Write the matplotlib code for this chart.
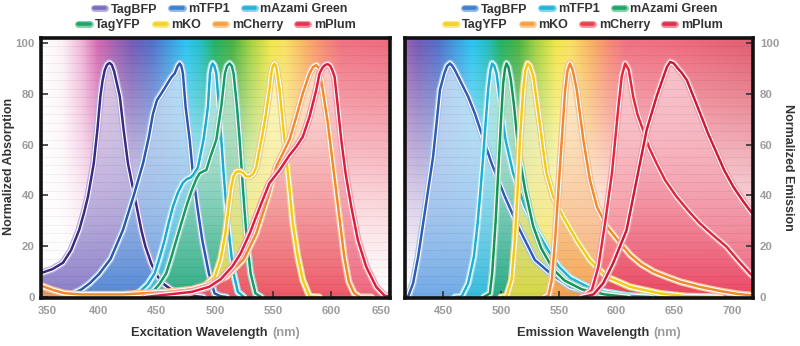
import numpy as np
import matplotlib
matplotlib.use('Agg')
import matplotlib.pyplot as plt
from matplotlib.colors import LinearSegmentedColormap, to_rgb
from matplotlib.lines import Line2D
import matplotlib.patheffects as pe
import matplotlib.transforms as mtransforms
from matplotlib.offsetbox import TextArea, HPacker, AnchoredOffsetbox

plt.rcParams['font.family'] = ['Liberation Sans', 'DejaVu Sans']
plt.rcParams['font.weight'] = 'bold'

proteins = ['TagBFP', 'mTFP1', 'mAzami Green', 'TagYFP', 'mKO', 'mCherry', 'mPlum']

# ---------------- Excitation spectra ----------------
tagbfp_ex_wl = [350, 360, 369, 376, 383, 387, 390.5, 393, 395.5, 398.6, 401.2, 403, 405, 407, 409, 411, 413, 415.5, 418, 421.3, 425, 430.8, 436.5, 440, 445, 450, 455, 462, 470, 480, 490]
tagbfp_ex_val = [9.4, 11, 13.5, 18.5, 26.5, 33, 39.5, 46, 52.6, 65.7, 78.9, 85, 89.4, 91.5, 92.2, 91.5, 89, 84, 78.9, 65.7, 52.6, 39.5, 26.4, 20, 13.3, 8.5, 5.4, 3, 1.5, 0.5, 0]

mtfp1_ex_wl = [370, 378, 385, 392, 400, 410, 420.7, 430, 438, 443, 446.5, 450, 455, 459, 462.4, 465.3, 468, 469.6, 471, 472.4, 474.7, 478.2, 481, 484.8, 489.1, 494.8, 499.7, 505, 510]
mtfp1_ex_val = [0, 1.5, 3, 5.4, 9, 15, 26.4, 40, 52.6, 63, 72, 77.5, 81, 84, 86.5, 88, 91, 92, 91, 88, 75, 62, 48.7, 35.6, 22.4, 9.3, 1.4, 0.3, 0]

mazami_ex_wl = [425, 435, 442, 448, 452, 456.6, 460, 463.8, 468, 472.4, 476, 479, 482, 485.3, 488, 490.2, 492, 494, 495.7, 497, 498, 499.5, 501.2, 503.5, 505.5, 507.5, 509.8, 512.7, 516.1, 519.8, 525]
mazami_ex_val = [0, 2, 5, 9.3, 15, 22.4, 29, 35.6, 41, 45, 46.5, 47, 48.5, 51, 57, 62, 68, 75, 88, 91, 92, 91, 88, 75, 62, 48.7, 35.6, 22.4, 9.3, 2, 0]

tagyfp_ex_wl = [435, 445, 452, 458, 462, 466.7, 471, 475.3, 480, 484, 486.8, 490, 492.6, 496, 501.2, 505.5, 508.6, 510.5, 512.7, 514.5, 516.1, 519, 521.3, 523.3, 525.3, 527.6, 530.8, 535, 540]
tagyfp_ex_val = [0, 1.4, 5, 9.3, 15, 22.4, 29, 35.6, 42, 46.5, 48.7, 49.5, 50, 55, 62, 75, 88, 91, 92, 91, 88, 75, 62, 48.7, 35.6, 22.4, 9.3, 1.4, 0]

mko_ex_wl = [460, 470, 480, 490, 500, 505, 509, 512, 514, 516, 518.4, 521, 524, 527, 530, 533, 535.6, 538, 541, 544, 547, 548.6, 550, 551.5, 553, 555.8, 558.6, 561.5, 564.4, 567.2, 571.5, 575.8, 581.6, 590]
mko_ex_val = [0, 1, 2, 4, 8, 15, 25, 36, 43, 47.5, 49.3, 49.5, 49, 47.5, 47.4, 48.5, 51, 57, 64, 72, 81.5, 88, 91, 92, 90.5, 81.5, 68.4, 55.3, 42, 29, 15.9, 6.7, 0.2, 0]

mcherry_ex_wl = [350, 360, 370, 385, 400, 420, 440, 460, 480, 495, 510, 525, 535.6, 547, 552.9, 558.6, 564.4, 570.2, 575.8, 581.6, 584.5, 587.4, 590, 593, 597.4, 601, 604.5, 608, 611.5, 615.5, 620, 625, 635]
mcherry_ex_val = [4.5, 2.8, 1.5, 1, 1, 1, 1.5, 2, 3, 5, 8, 15, 25, 41, 51.4, 56.6, 62, 71, 80.2, 88, 90.5, 91.3, 90, 81.5, 68.4, 55, 42, 29, 16, 6, 1.5, 0, 0]

mplum_ex_wl = [440, 460, 480, 495, 505, 515, 522, 530, 535, 541, 547, 555.8, 564.4, 570.2, 575.8, 581.6, 587.4, 590.2, 593, 595.5, 597.4, 599.5, 601.5, 603.2, 606, 609, 612.7, 617.6, 623.3, 630.5, 639.1, 646.3, 655]
mplum_ex_val = [0, 1, 2, 4, 7, 12, 17, 25, 31, 38, 44.8, 50, 55.9, 59.2, 63.1, 71, 81.5, 88, 90.5, 91.5, 91.7, 91, 89, 86.7, 75, 61.8, 48.7, 35.6, 22.4, 11.9, 4, 0.5, 0]

# ---------------- Emission spectra ----------------
tagbfp_em_wl = [417, 419.7, 424, 428.4, 432.7, 437, 441.3, 444.3, 447.2, 451, 453.5, 455.9, 458, 460.1, 465.9, 471.6, 477.4, 483.2, 491.9, 503.4, 514.9, 529.3, 542.5, 560, 583, 600, 620]
tagbfp_em_val = [0, 0.2, 5.4, 15.9, 29, 42.1, 55.3, 68.4, 81.5, 88, 91, 92, 91, 89.4, 84.1, 78.9, 72.3, 64.4, 52.6, 39.5, 27.7, 14.6, 9.4, 4, 1, 0.3, 0]

mtfp1_em_wl = [460, 465.9, 471.6, 476.6, 479.8, 482.3, 484.6, 486.7, 488.9, 490.8, 492.4, 494.2, 496.2, 499.9, 504, 510.6, 520.7, 530, 540, 550, 560, 575, 590, 610, 630]
mtfp1_em_val = [0, 0.2, 5.4, 15.9, 29, 42.1, 55.3, 68.4, 81.5, 89, 92, 91, 88, 75, 61.8, 48.7, 35.6, 27, 19, 12, 7.5, 4, 2, 0.5, 0]

mazami_em_wl = [485, 490.4, 492.4, 495.3, 497.6, 499.9, 501.9, 503.5, 504.8, 506.5, 508.6, 511.4, 515, 521, 528, 535, 545, 555, 570, 590, 610]
mazami_em_val = [0, 1.4, 9.3, 29, 48.7, 68.4, 84, 90, 92, 90.5, 85.4, 75, 57.9, 42, 27.7, 19, 11, 6.5, 3, 1, 0]

tagyfp_em_wl = [500, 504.8, 509.2, 512, 514.4, 516.4, 519.2, 521, 523, 525, 527.9, 530.8, 533.6, 536.5, 539.4, 545.2, 553.8, 565.4, 576.9, 591.3, 611.5, 637.5, 660, 690]
tagyfp_em_val = [0, 0.2, 6.7, 22.4, 42, 61.8, 81.5, 89, 92, 91, 87.1, 77.6, 68.4, 57.9, 48.7, 39.5, 31.6, 22.4, 14.5, 8, 4, 1.4, 0.3, 0]

mko_em_wl = [538, 541, 544, 546.8, 549.7, 552.6, 555.5, 557.5, 559.7, 562, 565.6, 571.3, 577, 583, 591.6, 603.5, 612, 621, 632, 643, 655, 672, 690, 705, 718]
mko_em_val = [0, 0.5, 6.7, 22.4, 42, 61.8, 81.5, 89, 92, 89.5, 81.5, 61.8, 46, 35.6, 27.7, 21, 16.5, 13, 10, 8, 6, 4, 2.3, 1.2, 0.6]

mcherry_em_wl = [570, 578.6, 584.3, 590, 596, 601.6, 604.5, 607.4, 610.5, 614.4, 618, 623, 628, 634.6, 642, 651.9, 662, 672, 683, 695.1, 705, 715.3, 718]
mcherry_em_val = [0, 2.7, 12, 29, 48.7, 75, 87, 92, 89.5, 78.9, 72, 65.7, 59, 52.6, 46, 39.5, 34, 29, 24.5, 19.8, 14.5, 9.3, 8.2]

mplum_em_wl = [570, 580, 588.4, 597, 608.7, 617.3, 626, 634.6, 640, 643.5, 646.4, 649.5, 653, 656, 660.8, 666, 672.3, 679, 686.7, 693, 701, 709, 718]
mplum_em_val = [0, 1, 5.4, 13.3, 26.4, 46, 65.7, 78.9, 86, 90.5, 92.6, 92, 90, 88.5, 85.4, 79.5, 72.3, 64.5, 56.6, 50, 43.4, 38, 32.5]

ex_xticks = [350, 400, 450, 500, 550, 600, 650]
em_xticks = [450, 500, 550, 600, 650, 700]
yticks = [0, 20, 40, 60, 80, 100]

# ---------------- styles ----------------
ex_line = ['#3a2a80', '#2c5aaa', '#1fa9cc', '#169a6c', '#f0cc18', '#ef8a2e', '#dc1f3c']
ex_halo = ['#b9aee0', '#a8c4ec', '#a0e0f0', '#9ad8c0', '#e9cf86', '#f5c09a', '#f2a0ae']
ex_fill = ['#6a58b8', '#3a7ed4', '#1db4d8', '#1aa468', '#f2da2a', '#f59040', '#ea3a58']
ex_leg = ['#7a6ac0', '#3f7fd0', '#22b5d8', '#1ea868', '#f5d322', '#f7a041', '#e8354d']

em_line = ['#2f5db0', '#1eb0d0', '#14935a', '#f0cc18', '#ef8a2e', '#e4283c', '#cf1a36']
em_halo = ['#a8c4ec', '#a0e0f0', '#9ad8c0', '#e9cf86', '#f5c09a', '#f2a0ae', '#eea0ac']
em_fill = ['#4a92e0', '#18b8d8', '#12a06a', '#f2da2a', '#f59040', '#ee4058', '#e83050']
em_leg = ['#3f7fd0', '#22b5d8', '#1ea868', '#f5d322', '#f7a041', '#ee4050', '#e0304a']

spec_stops = [(350, '#ffffff'), (368, '#fcf0f6'), (385, '#eeb0d4'), (398, '#d468b0'),
              (412, '#a460b0'), (428, '#7258b4'), (445, '#4f6cc8'), (462, '#3aa0e0'),
              (475, '#28c4f0'), (488, '#20bcc0'), (500, '#20b060'), (515, '#48b040'),
              (530, '#a0d040'), (548, '#f2e648'), (560, '#f8e060'), (578, '#f8b060'),
              (592, '#f68c70'), (608, '#f07080'), (650, '#ee6a7c'), (720, '#e05a6c')]
LO, HI = 350.0, 720.0
spec = LinearSegmentedColormap.from_list('spec', [((w - LO) / (HI - LO), c) for w, c in spec_stops])

W, H = 800, 346
fig = plt.figure(figsize=(W / 100, H / 100), dpi=100)
ax1 = fig.add_axes([41 / W, 1 - 298 / H, (390 - 41) / W, (298 - 38) / H])
ax2 = fig.add_axes([405 / W, 1 - 298 / H, (753 - 405) / W, (298 - 38) / H])
YLIM = (-0.4, 102)


def draw_bg(ax, xlim):
    xs = np.linspace(xlim[0], xlim[1], 700)
    ys = np.linspace(YLIM[0], YLIM[1], 400)
    rgb = spec((xs - LO) / (HI - LO))[:, :3]
    a = 0.97 * np.clip(ys / 100, 0, 1) ** 1.25
    img = a[:, None, None] * rgb[None, :, :] + (1 - a[:, None, None])
    ax.imshow(img, extent=(xlim[0], xlim[1], YLIM[0], YLIM[1]), origin='lower',
              aspect='auto', zorder=0, interpolation='bilinear')
    for yy in np.arange(1.7, 102, 3.35):
        ax.axhline(yy, color='k', alpha=0.05, lw=0.7, zorder=2)


def draw_fill(ax, xlim, wl, val, fc):
    poly = ax.fill_between(wl, val, 0, facecolor='none', edgecolor='none', zorder=1)
    path = poly.get_paths()[0]
    ys = np.linspace(YLIM[0], YLIM[1], 300)
    c = np.array(to_rgb(fc))
    f = 1 - np.clip(ys / 100, 0, 1)
    t = 0.08 + 0.82 * f ** 1.2
    rgb = t[:, None] * c[None, :] + (1 - t[:, None])
    rgba = np.zeros((len(ys), 2, 4))
    rgba[:, :, :3] = rgb[:, None, :]
    rgba[:, :, 3] = (0.62 + 0.25 * f)[:, None]
    im = ax.imshow(rgba, extent=(xlim[0], xlim[1], YLIM[0], YLIM[1]), origin='lower',
                   aspect='auto', zorder=1, interpolation='bilinear')
    im.set_clip_path(path, ax.transData)


def draw_line(ax, wl, val, lc, hc):
    ax.plot(wl, val, color=lc, lw=1.8, solid_joinstyle='round', solid_capstyle='round', zorder=3,
            path_effects=[pe.Stroke(linewidth=5.2, foreground=hc, joinstyle='round'),
                          pe.Stroke(linewidth=3.4, foreground='white', joinstyle='round'), pe.Normal()])


ex_data = [(tagbfp_ex_wl, tagbfp_ex_val), (mtfp1_ex_wl, mtfp1_ex_val), (mazami_ex_wl, mazami_ex_val),
           (tagyfp_ex_wl, tagyfp_ex_val), (mko_ex_wl, mko_ex_val), (mcherry_ex_wl, mcherry_ex_val),
           (mplum_ex_wl, mplum_ex_val)]
em_data = [(tagbfp_em_wl, tagbfp_em_val), (mtfp1_em_wl, mtfp1_em_val), (mazami_em_wl, mazami_em_val),
           (tagyfp_em_wl, tagyfp_em_val), (mko_em_wl, mko_em_val), (mcherry_em_wl, mcherry_em_val),
           (mplum_em_wl, mplum_em_val)]

for ax, xlim, data, lines, halos, fills in [
        (ax1, (350, 651), ex_data, ex_line, ex_halo, ex_fill),
        (ax2, (417, 718), em_data, em_line, em_halo, em_fill)]:
    draw_bg(ax, xlim)
    for (wl, val), fc in zip(data, fills):
        draw_fill(ax, xlim, wl, val, fc)
    for (wl, val), lc, hc in zip(data, lines, halos):
        draw_line(ax, wl, val, lc, hc)
    ax.set_xlim(*xlim)
    ax.set_ylim(*YLIM)
    for sp in ax.spines.values():
        sp.set_linewidth(2.6)
        sp.set_color('#111111')
        sp.set_zorder(6)
    ax.set_yticks(yticks)
    ax.tick_params(direction='in', length=5, width=1.2, color='#333333',
                   labelsize=8.2, labelcolor='#9c9c9c')
    ax.tick_params(axis='x', pad=6)

ax1.set_xticks(ex_xticks)
ax2.set_xticks(em_xticks)
ax1.tick_params(axis='y', pad=4.5)
ax2.yaxis.tick_right()
ax2.tick_params(axis='y', pad=5)

labs = ax1.get_xticklabels()
labs[0].set_transform(labs[0].get_transform() + mtransforms.ScaledTranslation(6 / 100, 0, fig.dpi_scale_trans))
labs[-1].set_transform(labs[-1].get_transform() + mtransforms.ScaledTranslation(-8 / 100, 0, fig.dpi_scale_trans))

# axis labels
fig.text(9 / W, 1 - 166 / H, 'Normalized Absorption', rotation=90, ha='center', va='center',
         fontsize=9, color='#333333')
fig.text(788 / W, 1 - 167 / H, 'Normalized Emission', rotation=270, ha='center', va='center',
         fontsize=9, color='#333333')


def xlabel(cx, cy, main):
    t1 = TextArea(main, textprops=dict(color='#333333', fontsize=9.3, fontweight='bold'))
    t2 = TextArea('(nm)', textprops=dict(color='#9c9c9c', fontsize=9.3, fontweight='bold'))
    box = HPacker(children=[t1, t2], align='baseline', pad=0, sep=3.5)
    anch = AnchoredOffsetbox(loc='center', child=box, pad=0, borderpad=0, frameon=False,
                             bbox_to_anchor=(cx, cy), bbox_transform=fig.transFigure)
    fig.add_artist(anch)


xlabel(216 / W, 1 - 333 / H, 'Excitation Wavelength')
xlabel(599 / W, 1 - 333 / H, 'Emission Wavelength')


# legends
def handle(c):
    light = 0.55 * np.array(to_rgb(c)) + 0.45
    return Line2D([0], [0], color=c, lw=2.6, solid_capstyle='round',
                  path_effects=[pe.Stroke(linewidth=5, foreground=light), pe.Normal()])


def legend_row(names, colors, cx, cy):
    fig.legend([handle(c) for c in colors], names, loc='center', bbox_to_anchor=(cx, cy),
               bbox_transform=fig.transFigure, ncol=len(names), frameon=False, fontsize=9,
               handlelength=0.9, handletextpad=0.45, columnspacing=1.1, borderpad=0,
               borderaxespad=0, labelcolor='#333333')


legend_row(proteins[:3], ex_leg[:3], 221 / W, 1 - 9.5 / H)
legend_row(proteins[3:], ex_leg[3:], 217 / W, 1 - 25 / H)
legend_row(proteins[:3], em_leg[:3], 591 / W, 1 - 9.5 / H)
legend_row(proteins[3:], em_leg[3:], 584 / W, 1 - 25 / H)

fig.savefig('out.png', dpi=100)
